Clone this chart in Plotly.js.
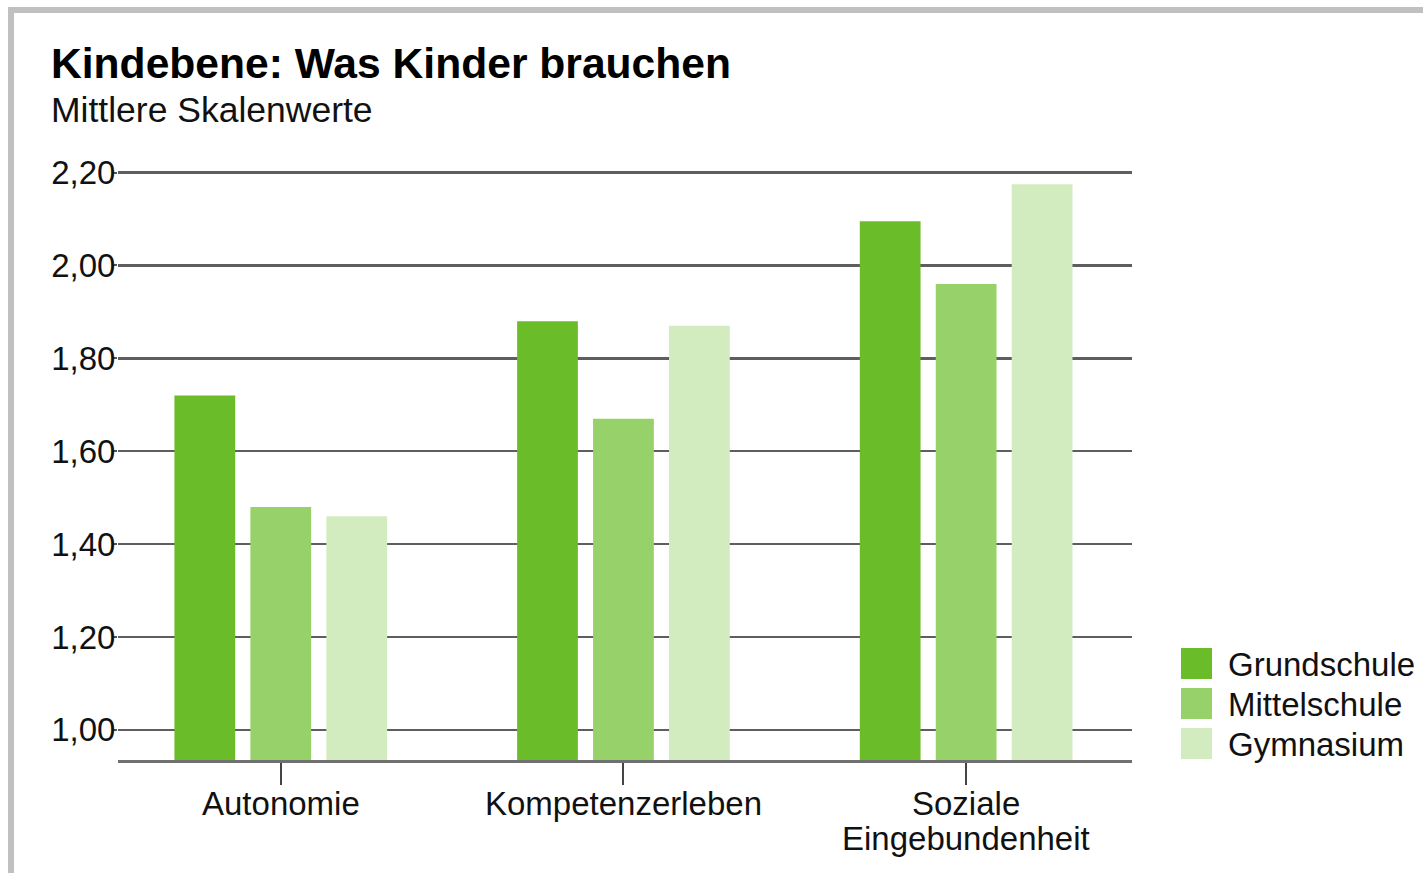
<!DOCTYPE html>
<html>
<head>
<meta charset="utf-8">
<script src="https://cdn.plot.ly/plotly-3.0.1.min.js"></script>
<style>
html,body{margin:0;padding:0;background:#fff;}
#wrap{position:relative;width:1423px;height:873px;overflow:hidden;}
#frame{position:absolute;left:8px;top:7px;width:2000px;height:2000px;border-left:6px solid #c0c0c0;border-top:6px solid #c0c0c0;box-sizing:border-box;pointer-events:none;z-index:5;}
#chart{position:absolute;left:0;top:0;width:1423px;height:873px;}
</style>
</head>
<body>
<div id="wrap"><div id="chart"></div><div id="frame"></div></div>
<script>
// ---- data ----
const categories = ["Autonomie", "Kompetenzerleben", "Soziale<br>Eingebundenheit"];
const seriesNames = ["Grundschule", "Mittelschule", "Gymnasium"];
const grundschule = [1.72, 1.88, 2.095];
const mittelschule = [1.48, 1.67, 1.96];
const gymnasium = [1.46, 1.87, 2.175];
const seriesColors = ["#6abd28", "#97d16a", "#d2ebbf"];
const yTickValues = [1.0, 1.2, 1.4, 1.6, 1.8, 2.0, 2.2];
const yTickLabels = ["1,00", "1,20", "1,40", "1,60", "1,80", "2,00", "2,20"];

const seriesValues = [grundschule, mittelschule, gymnasium];
const FONT = "Liberation Sans, Arial, Helvetica, sans-serif";

const traces = seriesNames.map((name, i) => ({
  type: "bar",
  name: name,
  x: categories,
  y: seriesValues[i],
  marker: {color: seriesColors[i], line: {width: 0}},
  showlegend: false,
  hoverinfo: "x+y+name"
}));

// plot area in pixels
const W = 1423, H = 873;
const L = 118, R = 1132, T = 167, B = 760;
const px2x = p => (p - L) / (R - L);
const py2y = p => (B - p) / (B - T);

const shapes = [];
const annotations = [];
// subtitle
annotations.push({
  xref: "paper", yref: "paper", x: px2x(49), y: py2y(110),
  xanchor: "left", yanchor: "middle", showarrow: false,
  text: "Mittlere Skalenwerte", font: {family: FONT, size: 35.5, color: "#111"}
});
// category labels (one annotation per text line)
categories.forEach((cat) => {
  cat.split("<br>").forEach((line, j) => {
    annotations.push({
      xref: "x", yref: "paper", x: cat, y: py2y(803 + j * 35),
      xanchor: "center", yanchor: "middle", showarrow: false,
      text: line, font: {family: FONT, size: 33, color: "#111"}
    });
  });
});
// custom legend
seriesNames.forEach((name, i) => {
  const top = 648 + i * 40;
  shapes.push({
    type: "rect", xref: "paper", yref: "paper",
    x0: px2x(1181), x1: px2x(1212), y0: py2y(top + 31), y1: py2y(top),
    fillcolor: seriesColors[i], line: {width: 0}
  });
  annotations.push({
    xref: "paper", yref: "paper", x: px2x(1226), y: py2y(top + 16),
    xanchor: "left", yanchor: "middle", showarrow: false,
    text: name, font: {family: FONT, size: 33, color: "#111"}
  });
});

const layout = {
  width: W, height: H,
  margin: {l: L, r: W - R, t: T, b: H - B, pad: 0},
  paper_bgcolor: "#fff", plot_bgcolor: "#fff",
  font: {family: FONT, size: 33, color: "#111"},
  separators: ",.",
  title: {
    text: "<b>Kindebene: Was Kinder brauchen</b>",
    font: {family: FONT, size: 42.6, color: "#000"},
    xref: "container", yref: "container",
    x: 51 / W, xanchor: "left",
    y: 1 - 63 / H, yanchor: "middle"
  },
  barmode: "group",
  bargap: 0.335,
  bargroupgap: 0.2,
  showlegend: false,
  xaxis: {
    type: "category",
    range: [-0.475, 2.484],
    showgrid: false, zeroline: false,
    showline: true, linecolor: "#707070", linewidth: 2.5,
    ticks: "outside", ticklen: 22, tickwidth: 2, tickcolor: "#444",
    showticklabels: false,
    fixedrange: true
  },
  yaxis: {
    range: [0.935, 2.212],
    tickvals: yTickValues, ticktext: yTickLabels,
    showgrid: true, gridcolor: "#5e5e5e", gridwidth: 2.5,
    zeroline: false, showline: false,
    ticks: "outside", ticklen: 5, tickwidth: 2, tickcolor: "#555",
    ticklabelstandoff: -10,
    tickfont: {family: FONT, size: 33, color: "#111"},
    fixedrange: true
  },
  shapes: shapes,
  annotations: annotations
};

Plotly.newPlot("chart", traces, layout, {displayModeBar: false, staticPlot: true});
</script>
</body>
</html>
